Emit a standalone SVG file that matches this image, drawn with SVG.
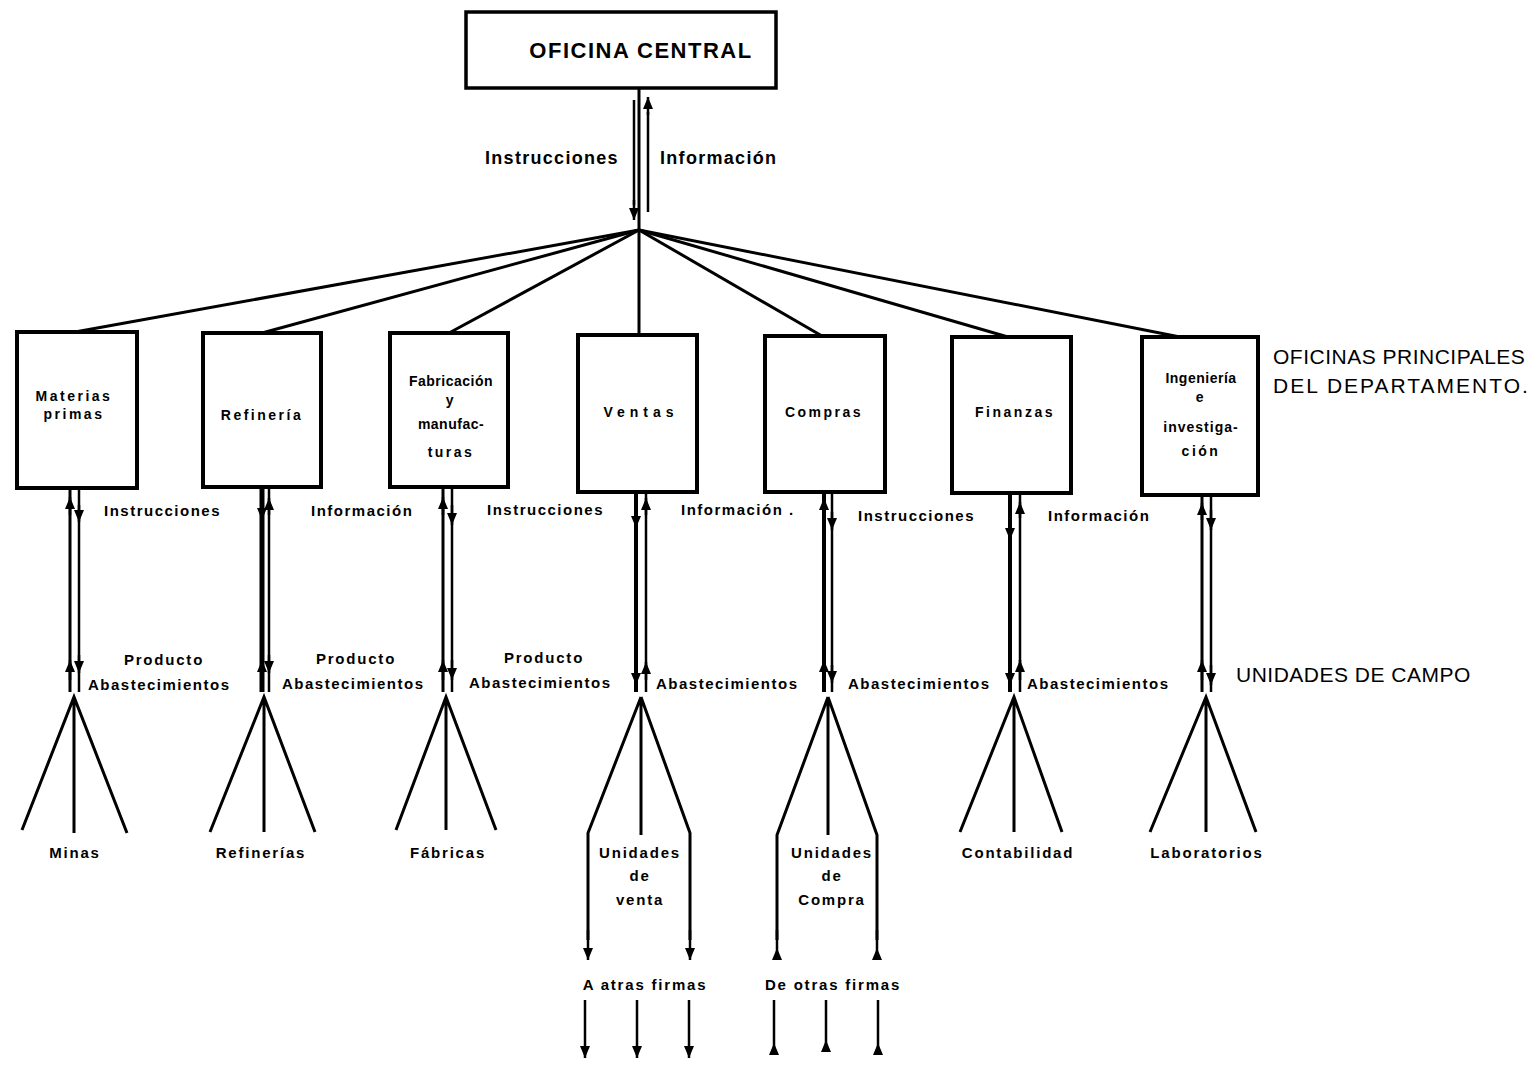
<svg xmlns="http://www.w3.org/2000/svg" width="1535" height="1065" viewBox="0 0 1535 1065">
<style>
.box{fill:#fff;stroke:#000;stroke-width:4}
.ln{fill:none;stroke:#000;stroke-width:3}
.thin{fill:none;stroke:#000;stroke-width:2.5}
.arr{fill:none;stroke:#000;stroke-width:2.5;marker-end:url(#ah)}
.tl{fill:none;stroke:#000;stroke-width:2.5;marker-end:url(#tail)}
text{font-family:"Liberation Sans",Arial,sans-serif;fill:#000}
.t{font-weight:bold;font-size:22px;letter-spacing:1.5px}
.lbl{font-weight:bold;font-size:18px;letter-spacing:1.3px}
.d{font-weight:bold;font-size:14px;letter-spacing:2.5px;text-anchor:middle}
.s{font-weight:bold;font-size:15px;letter-spacing:1.5px}
.c{font-weight:bold;font-size:15px;letter-spacing:1.8px;text-anchor:middle}
.r{font-size:21px;letter-spacing:0.5px}
</style>
<defs>
<marker id="ah" viewBox="0 0 12 10" refX="12" refY="5" markerUnits="userSpaceOnUse" markerWidth="12" markerHeight="10" orient="auto"><path d="M0,0 L12,5 L0,10 Z" fill="#000"/></marker>
<marker id="tail" viewBox="0 0 12 10" refX="12" refY="5" markerUnits="userSpaceOnUse" markerWidth="12" markerHeight="10" orient="auto"><path d="M0,5 L12,0 L12,10 Z" fill="#000"/></marker>
</defs>
<rect width="1535" height="1065" fill="#fff"/>

<g id="connectors">
<!-- central to hub -->
<line class="ln" x1="639" y1="88" x2="639" y2="230"/>
<line class="thin" x1="634" y1="100" x2="634" y2="205"/>
<path class="arr" d="M634,200 L634,220"/>
<line class="thin" x1="648" y1="112" x2="648" y2="212"/>
<path class="arr" d="M648,115 L648,97"/>
<!-- hub to departments -->
<line class="ln" x1="639" y1="230" x2="75" y2="332"/>
<line class="ln" x1="639" y1="230" x2="262" y2="333"/>
<line class="ln" x1="639" y1="230" x2="449" y2="333"/>
<line class="ln" x1="639" y1="230" x2="639" y2="335"/>
<line class="ln" x1="639" y1="230" x2="822" y2="336"/>
<line class="ln" x1="639" y1="230" x2="1008" y2="337"/>
<line class="ln" x1="639" y1="230" x2="1180" y2="337"/>

<!-- Materias primas pair -->
<line class="ln" x1="70" y1="490" x2="70" y2="692"/>
<line class="thin" x1="79" y1="490" x2="79" y2="692"/>
<path class="arr" d="M70,515 L70,497"/>
<path class="arr" d="M79,505 L79,522"/>
<path class="arr" d="M70,680 L70,660"/>
<path class="arr" d="M79,655 L79,673"/>
<!-- Refineria pair -->
<line class="ln" x1="262" y1="489" x2="262" y2="692" style="stroke-width:5"/>
<line class="thin" x1="269" y1="489" x2="269" y2="692"/>
<path class="arr" d="M262,495 L262,520"/>
<path class="arr" d="M269,515 L269,498"/>
<path class="arr" d="M262,680 L262,660"/>
<path class="arr" d="M269,655 L269,673"/>
<!-- Fabricacion pair -->
<line class="ln" x1="443" y1="489" x2="443" y2="692"/>
<line class="thin" x1="452" y1="489" x2="452" y2="692"/>
<path class="arr" d="M443,515 L443,497"/>
<path class="arr" d="M452,505 L452,525"/>
<path class="arr" d="M443,680 L443,660"/>
<path class="arr" d="M452,660 L452,680"/>
<!-- Ventas pair -->
<line class="ln" x1="636" y1="494" x2="636" y2="692" style="stroke-width:4"/>
<line class="thin" x1="646" y1="494" x2="646" y2="692"/>
<path class="arr" d="M636,505 L636,528"/>
<path class="arr" d="M646,515 L646,498"/>
<path class="arr" d="M636,665 L636,685"/>
<path class="arr" d="M646,680 L646,662"/>
<!-- Compras pair -->
<line class="ln" x1="824" y1="494" x2="824" y2="692" style="stroke-width:4"/>
<line class="thin" x1="832" y1="494" x2="832" y2="692"/>
<path class="arr" d="M824,515 L824,498"/>
<path class="arr" d="M832,512 L832,530"/>
<path class="arr" d="M824,680 L824,660"/>
<path class="arr" d="M832,665 L832,683"/>
<!-- Finanzas pair -->
<line class="ln" x1="1010" y1="495" x2="1010" y2="692" style="stroke-width:4"/>
<line class="thin" x1="1020" y1="495" x2="1020" y2="692"/>
<path class="arr" d="M1010,520 L1010,540"/>
<path class="arr" d="M1020,518 L1020,502"/>
<path class="arr" d="M1010,665 L1010,685"/>
<path class="arr" d="M1020,680 L1020,660"/>
<!-- Ingenieria pair -->
<line class="ln" x1="1202" y1="497" x2="1202" y2="692"/>
<line class="thin" x1="1211" y1="497" x2="1211" y2="692"/>
<path class="arr" d="M1202,520 L1202,503"/>
<path class="arr" d="M1211,510 L1211,530"/>
<path class="arr" d="M1202,680 L1202,660"/>
<path class="arr" d="M1211,665 L1211,685"/>

<!-- fans -->
<path class="ln" d="M22,830 L74,697 L127,833 M74,697 L74,833"/>
<path class="ln" d="M210,832 L264,697 L315,832 M264,697 L264,832"/>
<path class="ln" d="M396,830 L446,697 L496,830 M446,697 L446,830"/>
<path class="ln" d="M641,697 L641,835 M641,697 L588,833 L588,940 M641,697 L690,833 L690,940"/>
<path class="arr" d="M588,930 L588,960"/>
<path class="arr" d="M690,930 L690,960"/>
<path class="ln" d="M828,697 L828,835 M828,697 L777,835 L777,940 M828,697 L877,835 L877,940"/>
<path class="tl" d="M777,930 L777,960"/>
<path class="tl" d="M877,930 L877,960"/>
<path class="ln" d="M960,832 L1014,697 L1062,832 M1014,697 L1014,832"/>
<path class="ln" d="M1150,832 L1206,697 L1256,832 M1206,697 L1206,832"/>

<!-- bottom arrows -->
<path class="arr" d="M585,1000 L585,1058"/>
<path class="arr" d="M637,1000 L637,1058"/>
<path class="arr" d="M689,1000 L689,1058"/>
<path class="tl" d="M774,1000 L774,1055"/>
<path class="tl" d="M826,1000 L826,1052"/>
<path class="tl" d="M878,1000 L878,1055"/>
</g>

<g id="oficina-central">
<rect class="box" x="466" y="12" width="310" height="76" style="stroke-width:3.5"/>
<text class="t" x="641" y="58" text-anchor="middle">OFICINA CENTRAL</text>
</g>

<g id="materias-primas">
<rect class="box" x="17" y="332" width="120" height="156"/>
<text class="d" x="74" y="401">Materias</text>
<text class="d" x="74" y="419">primas</text>
</g>
<g id="refineria">
<rect class="box" x="203" y="333" width="118" height="154"/>
<text class="d" x="262" y="420">Refinería</text>
</g>
<g id="fabricacion">
<rect class="box" x="390" y="333" width="118" height="154"/>
<text class="d" x="451" y="386" style="letter-spacing:0.5px">Fabricación</text>
<text class="d" x="451" y="405">y</text>
<text class="d" x="451" y="429" style="letter-spacing:0.5px">manufac-</text>
<text class="d" x="451" y="457">turas</text>
</g>
<g id="ventas">
<rect class="box" x="578" y="335" width="119" height="157"/>
<text class="d" x="641" y="417" style="letter-spacing:5px">Ventas</text>
</g>
<g id="compras">
<rect class="box" x="765" y="336" width="120" height="156"/>
<text class="d" x="824" y="417">Compras</text>
</g>
<g id="finanzas">
<rect class="box" x="952" y="337" width="119" height="156"/>
<text class="d" x="1015" y="417">Finanzas</text>
</g>
<g id="ingenieria">
<rect class="box" x="1142" y="337" width="116" height="158"/>
<text class="d" x="1201" y="383" style="letter-spacing:0.5px">Ingeniería</text>
<text class="d" x="1201" y="402">e</text>
<text class="d" x="1201" y="432" style="letter-spacing:1px">investiga-</text>
<text class="d" x="1201" y="456">ción</text>
</g>

<g id="labels">
<text class="lbl" x="485" y="164">Instrucciones</text>
<text class="lbl" x="660" y="164">Información</text>
<text class="r" x="1273" y="364">OFICINAS PRINCIPALES</text>
<text class="r" x="1273" y="393" style="letter-spacing:2px">DEL DEPARTAMENTO.</text>
<text class="r" x="1236" y="682">UNIDADES DE CAMPO</text>

<text class="s" x="104" y="516">Instrucciones</text>
<text class="s" x="311" y="516">Información</text>
<text class="s" x="487" y="515">Instrucciones</text>
<text class="s" x="681" y="515">Información .</text>
<text class="s" x="858" y="521">Instrucciones</text>
<text class="s" x="1048" y="521">Información</text>

<text class="c" x="164" y="665">Producto</text>
<text class="c" x="356" y="664">Producto</text>
<text class="c" x="544" y="663">Producto</text>
<text class="s" x="88" y="690">Abastecimientos</text>
<text class="s" x="282" y="689">Abastecimientos</text>
<text class="s" x="469" y="688">Abastecimientos</text>
<text class="s" x="656" y="689">Abastecimientos</text>
<text class="s" x="848" y="689">Abastecimientos</text>
<text class="s" x="1027" y="689">Abastecimientos</text>
</g>

<g id="unidades">
<text class="c" x="75" y="858">Minas</text>
<text class="c" x="261" y="858">Refinerías</text>
<text class="c" x="448" y="858">Fábricas</text>
<text class="c" x="640" y="858">Unidades</text>
<text class="c" x="640" y="881">de</text>
<text class="c" x="640" y="905">venta</text>
<text class="c" x="832" y="858">Unidades</text>
<text class="c" x="832" y="881">de</text>
<text class="c" x="832" y="905">Compra</text>
<text class="c" x="1018" y="858">Contabilidad</text>
<text class="c" x="1207" y="858">Laboratorios</text>
<text class="c" x="645" y="990">A atras firmas</text>
<text class="c" x="833" y="990">De otras firmas</text>
</g>
</svg>
